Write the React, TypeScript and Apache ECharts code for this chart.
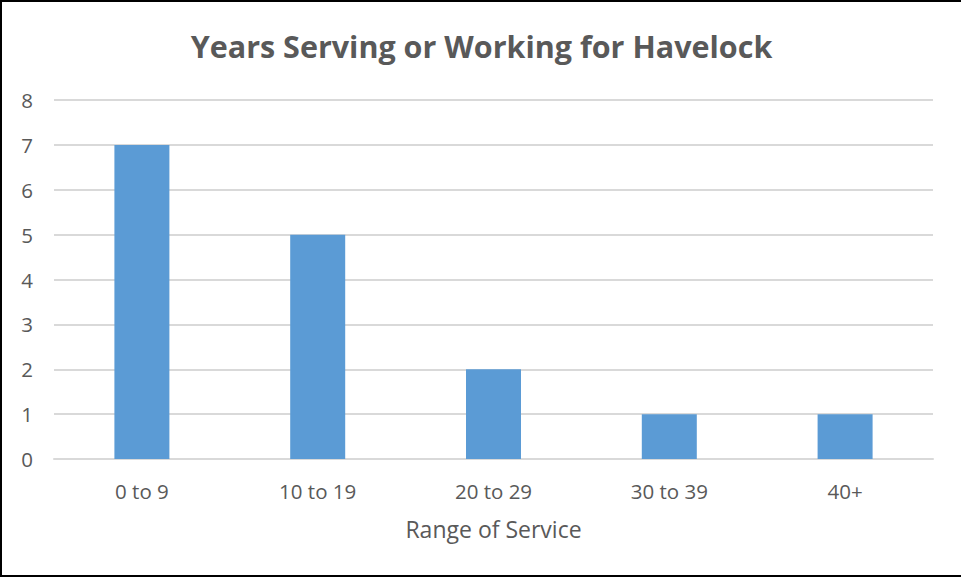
import React, { useEffect, useRef } from "react";
import * as echarts from "echarts";

const categories = ["0 to 9", "10 to 19", "20 to 29", "30 to 39", "40+"];
const values = [7, 5, 2, 1, 1];
const titleText = "Years Serving or Working for Havelock";
const xAxisName = "Range of Service";

export default function App() {
  const ref = useRef<HTMLDivElement>(null);
  useEffect(() => {
    if (!ref.current) return;
    const chart = echarts.init(ref.current, null, { renderer: "svg" });
    const font = "'Open Sans', sans-serif";
    chart.setOption({
      animation: false,
      backgroundColor: "#ffffff",
      title: {
        text: titleText,
        left: "center",
        top: 23,
        textStyle: { fontFamily: font, fontSize: 30.5, fontWeight: "bold", color: "#595959" },
      },
      grid: { left: 52, right: 28, top: 98, bottom: 116, containLabel: false },
      xAxis: {
        type: "category",
        data: categories,
        name: xAxisName,
        nameLocation: "middle",
        nameGap: 58,
        nameTextStyle: { fontFamily: font, fontSize: 23, color: "#595959" },
        axisLine: { show: true, lineStyle: { color: "#d9d9d9", width: 2 } },
        axisTick: { show: false },
        axisLabel: { fontFamily: font, fontSize: 20.5, color: "#595959", margin: 21 },
      },
      yAxis: {
        type: "value",
        min: 0,
        max: 8,
        interval: 1,
        axisLine: { show: false },
        axisTick: { show: false },
        splitLine: { lineStyle: { color: "#d9d9d9", width: 2 } },
        axisLabel: { fontFamily: font, fontSize: 20.5, color: "#595959", margin: 21 },
      },
      series: [
        {
          type: "bar",
          data: values,
          barWidth: 55,
          itemStyle: { color: "#5b9bd5" },
        },
      ],
    });
    return () => chart.dispose();
  }, []);
  return (
    <div
      style={{
        position: "fixed",
        left: 0,
        top: 0,
        width: 961,
        height: 577,
        boxSizing: "border-box",
        borderLeft: "2px solid #000",
        borderTop: "2px solid #000",
        borderBottom: "2px solid #000",
        background: "#fff",
      }}
    >
      <div ref={ref} style={{ width: 959, height: 573 }} />
    </div>
  );
}
